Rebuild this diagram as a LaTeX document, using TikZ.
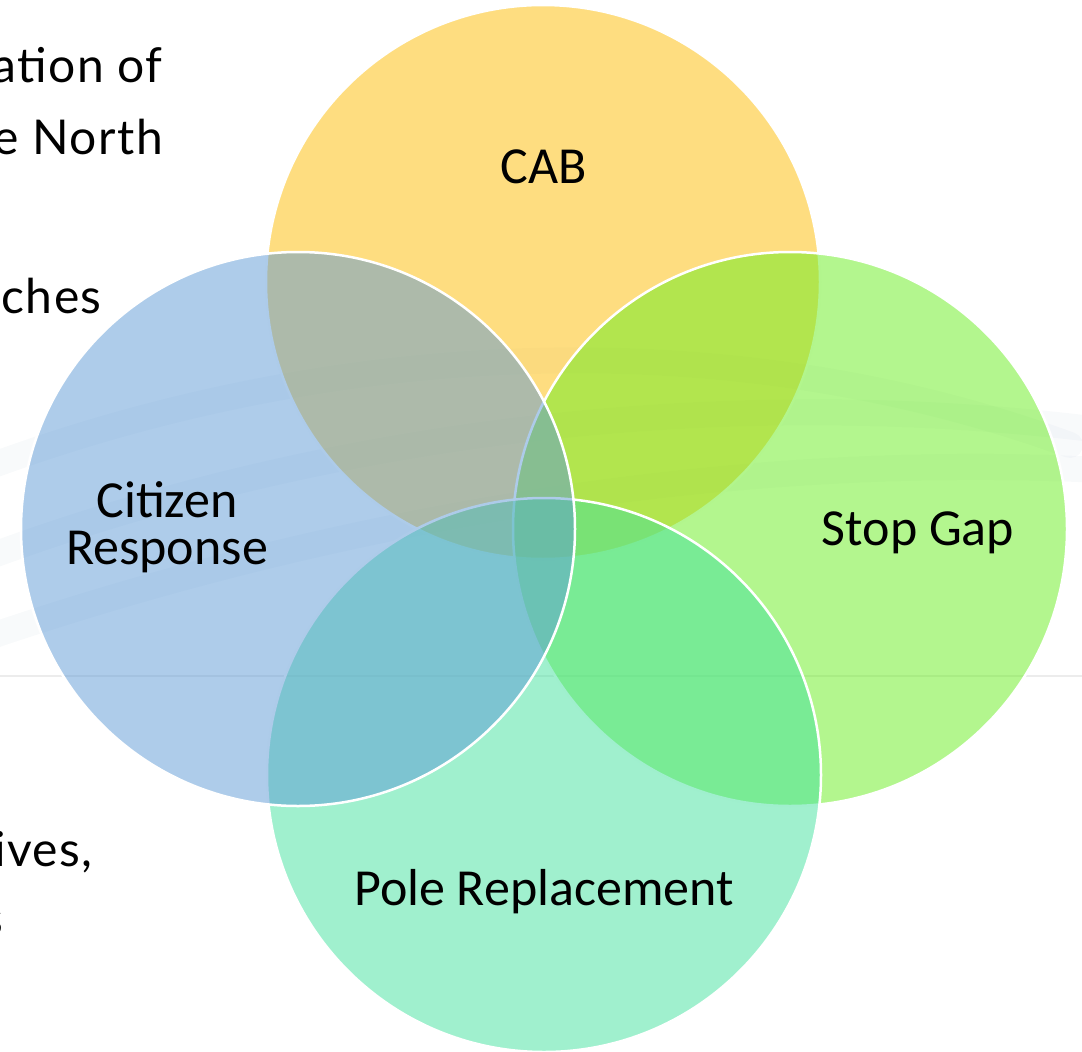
\documentclass[tikz,border=0pt]{standalone}
\usepackage{fontspec}
\setmainfont{Carlito}
\newfontfamily\slidefont[LetterSpace=3]{Lato}
\usepackage{xcolor}
\usepackage{tikz}
\definecolor{bg}{HTML}{FFFFFF}
\definecolor{ink}{HTML}{000000}
\definecolor{haze}{HTML}{8FA6BF}
\definecolor{rulegray}{HTML}{ECECEC}
\definecolor{cabfill}{HTML}{FDBC02}
\definecolor{citfill}{HTML}{5D99D5}
\definecolor{stopfill}{HTML}{67ED1D}
\definecolor{polefill}{HTML}{41E19D}
\tikzset{
  venn/.style={circle, draw=white, line width=2.5pt, fill opacity=0.5, minimum size=554pt, inner sep=0pt},
  lab/.style={text=ink, font=\fontsize{52}{47}\selectfont, align=center, inner sep=0pt},
  slide/.style={text=ink, font=\slidefont\fontsize{48}{56}\selectfont, anchor=base east, inner sep=0pt},
  swoosh/.style={draw=haze, line width=26pt, opacity=0.06, line cap=round},
  rule/.style={draw=rulegray, line width=1.5pt},
}

\begin{document}
\begin{tikzpicture}[x=1pt,y=-1pt]
  \useasboundingbox (0,0) rectangle (1082,1052);
  \clip (0,0) rectangle (1082,1052);
  % slide behind the diagram
  \draw[swoosh] (-20,470) .. controls (300,350) and (700,310) .. (1070,445);
  \draw[swoosh] (-20,560) .. controls (300,440) and (700,380) .. (1100,430);
  \draw[swoosh] (-20,640) .. controls (300,530) and (700,450) .. (1100,470);
  \draw[rule] (0,676) -- (1082,676);
  \foreach \t/\x/\y [count=\i] in {ation of/163/82, e North/163/154, ches/102/313, {ives,}/93/866, s/3/935}
    {\node[slide] (slide\i) at (\x,\y) {\t};}
  % circles, in the order they overlap
  \node[venn, fill=cabfill] (cab) at (543,282) {};
  \node[venn, fill=stopfill] (stop) at (790,529) {};
  \node[venn, fill=polefill] (pole) at (544,775) {};
  \node[venn, fill=citfill] (cit) at (298,529) {};
  % labels
  \node[lab, anchor=base] (cablab) at (544,183) {CAB};
  \node[lab] (citlab) at (167,527) {Citizen\\Response};
  \node[lab, anchor=base] (stoplab) at (918,545) {Stop Gap};
  \node[lab, anchor=base] (polelab) at (544,905) {Pole Replacement};
\end{tikzpicture}
\end{document}
